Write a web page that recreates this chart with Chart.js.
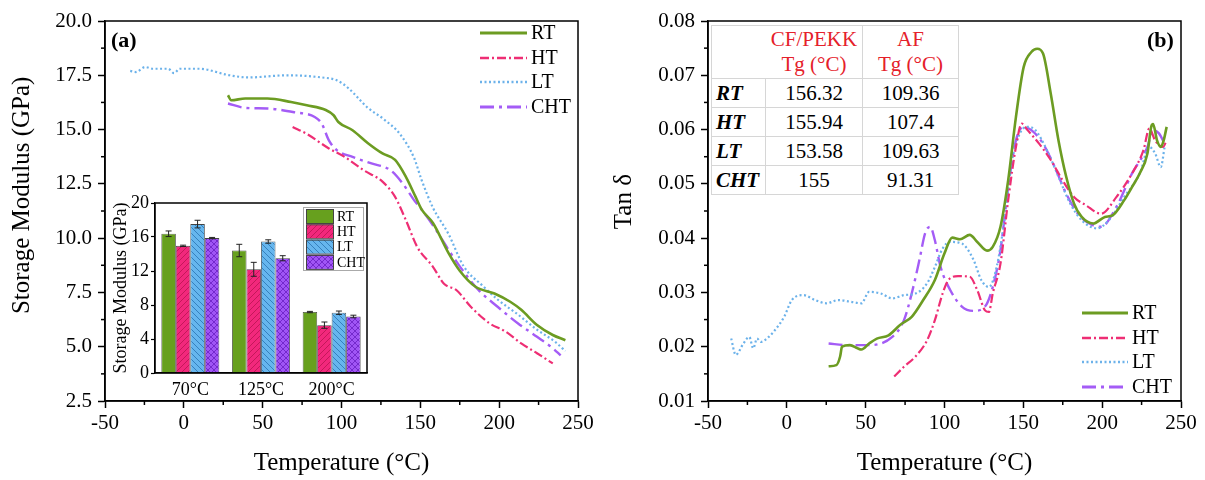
<!DOCTYPE html>
<html>
<head>
<meta charset="utf-8">
<script src="https://cdn.jsdelivr.net/npm/chart.js@4.4.1/dist/chart.umd.min.js"></script>
<style>
  body { margin: 0; background: #fff; }
  #wrap { position: relative; width: 1205px; height: 480px; font-family: 'Liberation Serif', serif; }
  canvas { position: absolute; }
  .tag { position: absolute; font-weight: bold; font-size: 22px; line-height: 22px; }
  #tbl { position: absolute; left: 711px; top: 25px; border-collapse: collapse; background: #fff;
         font-family: 'Liberation Serif', serif; font-size: 21px; border: 1px solid #999; }
  #tbl td { padding: 0; border: 1px solid #d6d6d6; text-align: center; line-height: 25px; }
  #tbl tr.h td { color: #e5202a; height: 52px; }
  #tbl tr.r td { height: 28px; }
  #tbl td.k { text-align: left; padding-left: 4px; font-weight: bold; font-style: italic; }
</style>
</head>
<body>
<div id="wrap">
  <canvas id="cA" width="600" height="480" style="left:0;top:0"></canvas>
  <canvas id="cB" width="605" height="480" style="left:600px;top:0"></canvas>
  <canvas id="cI" width="280" height="210" style="left:100px;top:190px"></canvas>
  <div class="tag" style="left:111px;top:29px">(a)</div>
  <div class="tag" style="left:1147px;top:29px">(b)</div>
  <table id="tbl">
    <colgroup><col style="width:54px"><col style="width:97px"><col style="width:96px"></colgroup>
    <tr class="h"><td style="border-right-color:transparent"></td><td>CF/PEKK<br>Tg (°C)</td><td>AF<br>Tg (°C)</td></tr>
    <tr class="r"><td class="k">RT</td><td>156.32</td><td>109.36</td></tr>
    <tr class="r"><td class="k">HT</td><td>155.94</td><td>107.4</td></tr>
    <tr class="r"><td class="k">LT</td><td>153.58</td><td>109.63</td></tr>
    <tr class="r"><td class="k">CHT</td><td>155</td><td>91.31</td></tr>
  </table>
</div>
<script>
const serif = "'Liberation Serif', 'Times New Roman', serif";
const seriesNames = ['RT', 'HT', 'LT', 'CHT'];

// (a) storage modulus vs temperature
const rtTempA = [28, 30, 39, 53, 68, 78, 90, 95, 98, 107, 117, 126, 134, 141, 147, 151, 158, 168, 175, 185, 197, 207, 214, 224, 234, 242];
const rtModA = [16.58, 16.35, 16.43, 16.43, 16.27, 16.12, 15.9, 15.66, 15.35, 14.97, 14.36, 13.9, 13.6, 12.8, 11.9, 11.3, 10.7, 9.3, 8.5, 7.76, 7.45, 7.07, 6.7, 6.0, 5.54, 5.3];
const htTempA = [69, 78, 92, 102, 114, 126, 134, 141, 148, 158, 165, 173, 182, 194, 204, 214, 224, 234];
const htModA = [15.12, 14.8, 14.13, 13.74, 13.13, 12.6, 11.9, 10.8, 9.6, 8.68, 7.9, 7.6, 6.84, 6.07, 5.7, 5.15, 4.7, 4.23];
const ltTempA = [-34, -30.5, -24.5, -19.6, -10, -6.2, -2.6, 4.7, 9.6, 29, 41, 65.6, 87.5, 97, 104.5, 116.7, 126.4, 137, 146, 150.7, 158, 167.8, 177.5, 189.6, 199.4, 211.6, 223.7, 235.9, 242];
const ltModA = [17.7, 17.65, 17.88, 17.8, 17.8, 17.6, 17.8, 17.8, 17.8, 17.5, 17.4, 17.5, 17.4, 17.27, 16.9, 16.0, 15.5, 14.8, 13.7, 12.7, 11.4, 10.2, 8.7, 7.8, 7.15, 6.5, 5.8, 5.2, 4.8];
const chtTempA = [28, 39, 53, 70, 83, 87.5, 92, 97, 107, 119, 131, 139, 146, 151, 160, 168, 175, 187, 199, 212, 224, 234, 239];
const chtModA = [16.2, 16.0, 15.97, 15.8, 15.58, 15.27, 14.5, 14.05, 13.74, 13.44, 13.13, 12.5, 11.75, 11.3, 10.37, 9.45, 8.7, 7.6, 6.84, 6.07, 5.46, 4.93, 4.6];

// (b) tan delta vs temperature
const rtTempB = [26.5, 31.4, 33.8, 35, 40, 44.9, 47.3, 52.2, 57.1, 64.5, 71.8, 79.2, 86.5, 93.9, 100, 104.9, 109.8, 116, 120.8, 127, 130.6, 135.5, 140.4, 145.3, 150.2, 155.1, 158.8, 162.5, 167.4, 172.3, 177.2, 182.1, 187, 194.4, 201.7, 206.6, 214, 218.9, 223.8, 228.7, 231.1, 232.3, 234.8, 237.2, 239, 240.9];
const rtTanB = [0.0164, 0.0166, 0.0182, 0.0200, 0.0203, 0.0197, 0.0195, 0.0206, 0.0215, 0.0221, 0.0240, 0.0255, 0.0286, 0.0323, 0.0372, 0.0401, 0.0398, 0.0406, 0.0393, 0.0377, 0.0384, 0.0421, 0.0507, 0.0623, 0.0715, 0.0743, 0.0749, 0.0740, 0.0666, 0.0580, 0.0513, 0.0464, 0.0439, 0.0427, 0.0439, 0.0442, 0.0470, 0.0494, 0.0519, 0.0556, 0.0605, 0.0610, 0.0580, 0.0568, 0.0580, 0.0605];
const htTempB = [68.1, 74.3, 81.6, 89, 93.9, 98.8, 102.5, 108.6, 116, 120.8, 125.7, 128.2, 130.6, 135.5, 140.4, 145.3, 149, 152.7, 160, 167.4, 174.8, 182.1, 189.5, 199.3, 209.1, 218.9, 226.2, 229.9, 233.6, 238.5, 240.9];
const htTanB = [0.0145, 0.0163, 0.0182, 0.0212, 0.0249, 0.0298, 0.0323, 0.0330, 0.0329, 0.0304, 0.0267, 0.0264, 0.0298, 0.0353, 0.0470, 0.0568, 0.0611, 0.0599, 0.0574, 0.0544, 0.0507, 0.0476, 0.0461, 0.0445, 0.0476, 0.0519, 0.0562, 0.0602, 0.0580, 0.0568, 0.0580];
const ltTempB = [-35.3, -32.4, -27.5, -23.8, -21.3, -18.9, -16.4, -11.5, -6.6, -1.7, 3.2, 10.5, 17.9, 25.2, 32.6, 40, 47.3, 52.2, 59.6, 66.9, 74.3, 81.6, 89, 93.9, 98.8, 103.7, 111, 118.4, 123.3, 128.2, 133.1, 138, 142.9, 147.8, 152.7, 157.6, 165, 172.3, 179.7, 187, 196.8, 204.2, 214, 223.8, 229.9, 233.6, 237.2, 239.6];
const ltTanB = [0.0215, 0.0185, 0.0206, 0.0218, 0.0197, 0.0215, 0.0209, 0.0218, 0.0234, 0.0255, 0.0286, 0.0295, 0.0286, 0.0280, 0.0286, 0.0283, 0.0280, 0.0301, 0.0298, 0.0289, 0.0295, 0.0298, 0.0317, 0.0347, 0.0381, 0.0393, 0.0390, 0.0360, 0.0323, 0.0310, 0.0347, 0.0433, 0.0544, 0.0593, 0.0605, 0.0599, 0.0562, 0.0513, 0.0464, 0.0433, 0.0418, 0.0433, 0.0476, 0.0519, 0.0568, 0.0556, 0.0531, 0.0568];
const chtTempB = [26.5, 37.5, 52.2, 66.9, 74.3, 79.2, 84.1, 87.7, 90.9, 93.9, 97.5, 103.7, 111, 118.4, 125.7, 130.6, 135.5, 140.4, 145.3, 150.2, 155.1, 162.5, 169.9, 177.2, 184.6, 191.9, 199.3, 209.1, 218.9, 228.7, 232.3, 236, 239.6];
const chtTanB = [0.0206, 0.0203, 0.0203, 0.0218, 0.0249, 0.0298, 0.0360, 0.0409, 0.0421, 0.0396, 0.0347, 0.0304, 0.0274, 0.0266, 0.0274, 0.0310, 0.0378, 0.0494, 0.0580, 0.0605, 0.0599, 0.0574, 0.0531, 0.0482, 0.0445, 0.0427, 0.0421, 0.0458, 0.0519, 0.0568, 0.0599, 0.0593, 0.0574];

// inset bars
const insetCats = ['70°C', '125°C', '200°C'];
const rtBar = [16.38, 14.41, 7.17];
const htBar = [14.96, 12.2, 5.63];
const ltBar = [17.52, 15.47, 7.09];
const chtBar = [15.87, 13.5, 6.65];
const rtErr = [0.33, 0.73, 0.08];
const htErr = [0.08, 0.82, 0.37];
const ltErr = [0.45, 0.2, 0.2];
const chtErr = [0.08, 0.3, 0.15];

const lineColors = ['#6c9c22', '#ee2e74', '#6cb2ea', '#a45cf6'];
const lineDash = [[], [9, 3, 2, 3], [2, 2.5], [14, 5, 3, 5]];
const lineWidths = [2.6, 2.2, 2.2, 2.4];

function pts(xs, ys) { return xs.map((x, i) => ({ x: x, y: ys[i] })); }

function lineSets(pairs) {
  return pairs.map((p, i) => ({
    label: seriesNames[i],
    data: pts(p[0], p[1]),
    borderColor: lineColors[i],
    borderWidth: lineWidths[i],
    borderDash: lineDash[i],
    pointRadius: 0,
    cubicInterpolationMode: 'monotone',
    fill: false
  }));
}

const framePlugin = {
  id: 'frame',
  afterDraw(chart) {
    const { ctx, chartArea: a } = chart;
    ctx.save();
    ctx.strokeStyle = '#000';
    ctx.lineWidth = 1.5;
    ctx.strokeRect(a.left, a.top, a.right - a.left, a.bottom - a.top);
    ctx.restore();
  }
};

const minorTicks = {
  id: 'minorTicks',
  afterDraw(chart, args, opts) {
    const ctx = chart.ctx;
    ctx.save();
    ctx.strokeStyle = '#000';
    ctx.lineWidth = 1.5;
    ['x', 'y'].forEach(id => {
      const s = chart.scales[id];
      const t = s.ticks;
      for (let i = 0; i < t.length - 1; i++) {
        const p = s.getPixelForValue((t[i].value + t[i + 1].value) / 2);
        ctx.beginPath();
        if (id === 'x') { ctx.moveTo(p, s.top); ctx.lineTo(p, s.top + opts.len); }
        else { ctx.moveTo(s.right, p); ctx.lineTo(s.right - opts.len, p); }
        ctx.stroke();
      }
    });
    ctx.restore();
  }
};

const lineLegend = {
  id: 'lineLegend',
  afterDraw(chart, args, o) {
    const ctx = chart.ctx;
    ctx.save();
    ctx.font = '20px ' + serif;
    ctx.textBaseline = 'middle';
    chart.data.datasets.forEach((ds, i) => {
      const y = o.ys[i];
      ctx.strokeStyle = ds.borderColor;
      ctx.lineWidth = ds.borderWidth + 0.4;
      ctx.setLineDash(ds.borderDash || []);
      ctx.beginPath(); ctx.moveTo(o.x0, y); ctx.lineTo(o.x1, y); ctx.stroke();
      ctx.setLineDash([]);
      ctx.fillStyle = '#000';
      ctx.fillText(ds.label, o.tx, y + 1);
    });
    ctx.restore();
  }
};

const errorBars = {
  id: 'errorBars',
  afterDatasetsDraw(chart) {
    const ctx = chart.ctx, ys = chart.scales.y;
    ctx.save();
    ctx.strokeStyle = '#222';
    ctx.lineWidth = 1;
    chart.data.datasets.forEach((ds, di) => {
      chart.getDatasetMeta(di).data.forEach((bar, i) => {
        const y1 = ys.getPixelForValue(ds.data[i] + ds.errors[i]);
        const y2 = ys.getPixelForValue(ds.data[i] - ds.errors[i]);
        ctx.beginPath();
        ctx.moveTo(bar.x, y1); ctx.lineTo(bar.x, y2);
        ctx.moveTo(bar.x - 3, y1); ctx.lineTo(bar.x + 3, y1);
        ctx.moveTo(bar.x - 3, y2); ctx.lineTo(bar.x + 3, y2);
        ctx.stroke();
      });
    });
    ctx.restore();
  }
};

const barLegend = {
  id: 'barLegend',
  afterDraw(chart, args, o) {
    const ctx = chart.ctx;
    ctx.save();
    ctx.fillStyle = '#fff';
    ctx.fillRect(o.x, o.y, o.w, o.h);
    ctx.strokeStyle = '#aaa';
    ctx.lineWidth = 1;
    ctx.strokeRect(o.x + 0.5, o.y + 0.5, o.w, o.h);
    ctx.font = '14px ' + serif;
    ctx.textBaseline = 'middle';
    chart.data.datasets.forEach((ds, i) => {
      const yy = o.y + 2 + i * o.row;
      ctx.fillStyle = ds.backgroundColor;
      ctx.fillRect(o.x + 3, yy, o.sw, o.sh);
      ctx.strokeStyle = '#444';
      ctx.strokeRect(o.x + 3.5, yy + 0.5, o.sw, o.sh);
      ctx.fillStyle = '#000';
      ctx.fillText(ds.label, o.x + o.sw + 7, yy + o.sh / 2 + 1);
    });
    ctx.restore();
  }
};

function hatch(base, line, kind) {
  const c = document.createElement('canvas');
  c.width = c.height = 6;
  const g = c.getContext('2d');
  g.fillStyle = base;
  g.fillRect(0, 0, 6, 6);
  g.strokeStyle = line;
  g.lineWidth = 1;
  g.beginPath();
  if (kind !== '\\') { g.moveTo(0, 6); g.lineTo(6, 0); g.moveTo(-1, 1); g.lineTo(1, -1); g.moveTo(5, 7); g.lineTo(7, 5); }
  if (kind !== '/') { g.moveTo(0, 0); g.lineTo(6, 6); g.moveTo(-1, 5); g.lineTo(1, 7); g.moveTo(5, -1); g.lineTo(7, 1); }
  g.stroke();
  return g.createPattern(c, 'repeat');
}

function axisX() {
  return {
    type: 'linear', min: -50, max: 250,
    ticks: { stepSize: 50, color: '#000', font: { family: serif, size: 21 }, padding: 3, maxRotation: 0 },
    grid: { drawOnChartArea: false, tickLength: 7, tickColor: '#000', tickWidth: 1.5 },
    border: { color: '#000', width: 1.5 },
    title: { display: true, text: 'Temperature (°C)', color: '#000', font: { family: serif, size: 25, lineHeight: 1.2 }, padding: { top: 0, bottom: 2 } },
    afterFit: s => { s.height = 79; }
  };
}

function axisY(min, max, step, dec, title, width, tpad) {
  return {
    min: min, max: max,
    ticks: { stepSize: step, color: '#000', font: { family: serif, size: 21 }, padding: 6, callback: v => Number(v).toFixed(dec) },
    grid: { drawOnChartArea: false, tickLength: 7, tickColor: '#000', tickWidth: 1.5 },
    border: { color: '#000', width: 1.5 },
    title: { display: true, text: title, color: '#000', font: { family: serif, size: 25, lineHeight: 1.2 }, padding: { top: tpad, bottom: 0 } },
    afterFit: s => { s.width = width; }
  };
}

new Chart(document.getElementById('cA'), {
  type: 'line',
  data: { datasets: lineSets([[rtTempA, rtModA], [htTempA, htModA], [ltTempA, ltModA], [chtTempA, chtModA]]) },
  options: {
    responsive: false, animation: false,
    layout: { padding: { left: 0, right: 22, top: 21, bottom: 0 } },
    plugins: {
      legend: { display: false }, tooltip: { enabled: false },
      minorTicks: { len: 4 },
      lineLegend: { x0: 480, x1: 527, tx: 531, ys: [33, 58, 82, 107] }
    },
    scales: { x: axisX(), y: axisY(2.5, 20, 2.5, 1, '\u00a0\u00a0\u00a0\u00a0\u00a0Storage Modulus (GPa)', 105, 7) }
  },
  plugins: [framePlugin, minorTicks, lineLegend]
});

new Chart(document.getElementById('cB'), {
  type: 'line',
  data: { datasets: lineSets([[rtTempB, rtTanB], [htTempB, htTanB], [ltTempB, ltTanB], [chtTempB, chtTanB]]) },
  options: {
    responsive: false, animation: false,
    layout: { padding: { left: 0, right: 24, top: 21, bottom: 0 } },
    plugins: {
      legend: { display: false }, tooltip: { enabled: false },
      minorTicks: { len: 4 },
      lineLegend: { x0: 482, x1: 528, tx: 532, ys: [313, 338, 362, 387] }
    },
    scales: { x: axisX(), y: axisY(0.01, 0.08, 0.01, 2, '\u00a0\u00a0\u00a0Tan δ', 108, 9) }
  },
  plugins: [framePlugin, minorTicks, lineLegend]
});

const barFills = [
  '#67a01e',
  hatch('#f2287c', '#c4185a', '/'),
  hatch('#66b6ee', '#3580bd', '\\'),
  hatch('#a055f5', '#7429cc', 'x')
];
const barVals = [rtBar, htBar, ltBar, chtBar];
const barErrs = [rtErr, htErr, ltErr, chtErr];

new Chart(document.getElementById('cI'), {
  type: 'bar',
  data: {
    labels: insetCats,
    datasets: barVals.map((v, i) => ({
      label: seriesNames[i],
      data: v,
      errors: barErrs[i],
      backgroundColor: barFills[i],
      borderColor: '#444',
      borderWidth: 0.8,
      barPercentage: 1,
      categoryPercentage: 0.82
    }))
  },
  options: {
    responsive: false, animation: false,
    layout: { padding: { left: 0, right: 13, top: 13, bottom: 0 } },
    plugins: {
      legend: { display: false }, tooltip: { enabled: false },
      barLegend: { x: 203, y: 17, w: 60, h: 63, row: 15.3, sw: 27, sh: 14 }
    },
    scales: {
      x: {
        ticks: { color: '#000', font: { family: serif, size: 18 }, padding: -2 },
        grid: { display: false },
        border: { color: '#000', width: 1.2 },
        afterFit: s => { s.height = 27; }
      },
      y: {
        min: 0, max: 20,
        ticks: { stepSize: 4, color: '#000', font: { family: serif, size: 18 }, padding: 2 },
        grid: { drawOnChartArea: false, tickLength: 4, tickColor: '#000', tickWidth: 1.2 },
        border: { color: '#000', width: 1.2 },
        title: { display: true, text: 'Storage Modulus (GPa)', color: '#000', font: { family: serif, size: 18, lineHeight: 1.2 }, padding: { top: 10, bottom: 0 } },
        afterFit: s => { s.width = 55; }
      }
    }
  },
  plugins: [errorBars, framePlugin, barLegend]
});
</script>
</body>
</html>
